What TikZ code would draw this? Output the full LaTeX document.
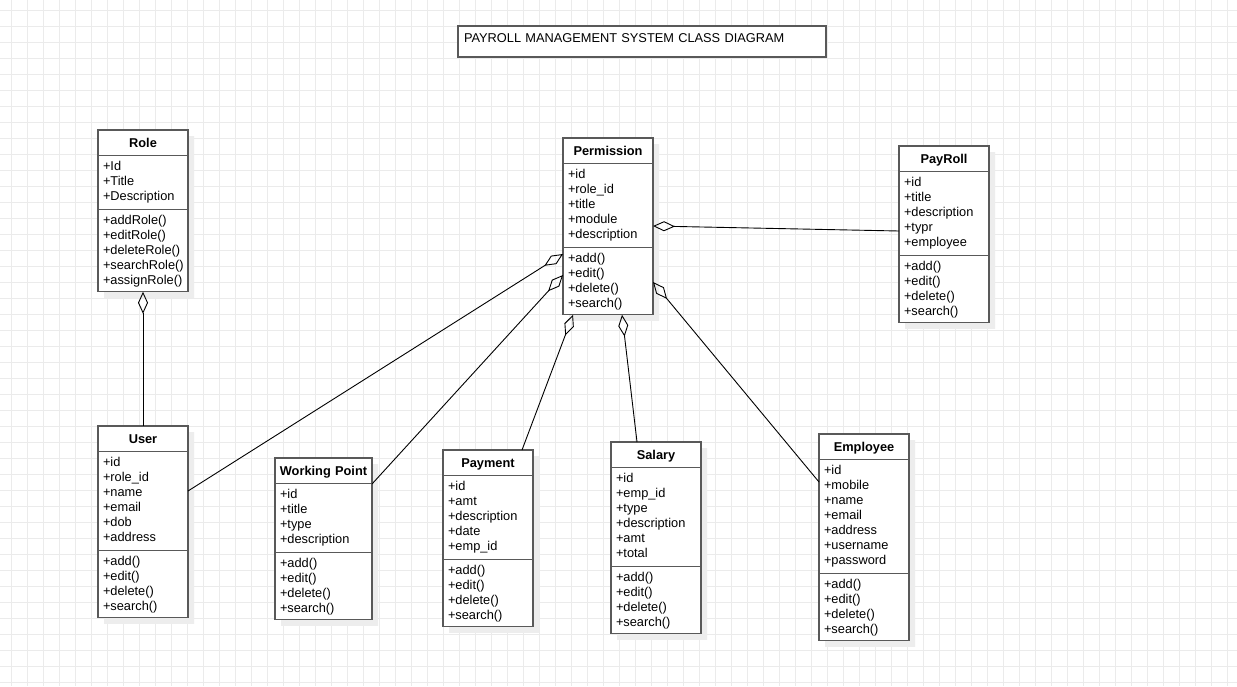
\documentclass[tikz,border=0pt]{standalone}
\usepackage{fontspec}
\setmainfont{Liberation Sans}
\usetikzlibrary{arrows.meta,calc,shapes.multipart,shadows}

\tikzset{
  gridline/.style={draw=black!8, line width=0.8pt},
  umlclass/.style={rectangle split, rectangle split parts=3, anchor=north west,
    draw=black!65, line width=1.2pt, fill=white, outer sep=0pt,
    inner xsep=5pt, inner ysep=4pt, text width=#1, align=left,
    font=\fontsize{12.8}{15}\selectfont,
    drop shadow={shadow xshift=6pt, shadow yshift=-6pt, fill=black!7, opacity=1}},
  umlclass/.default=80pt,
  titlebox/.style={anchor=north west, draw=black!65, line width=1.2pt, fill=white,
    outer sep=0pt, inner xsep=6pt, inner ysep=5pt, text width=356pt,
    text height=11pt, text depth=10pt, align=left, font=\fontsize{12.8}{15}\selectfont},
  agg/.style={line width=0.9pt, -{Diamond[open, length=22pt, width=10pt, line width=0.9pt]}}
}
\newcommand{\clshead}[1]{\rule[-3pt]{0pt}{16pt}\makebox[\hsize]{\textbf{#1}}}
\newcommand{\clsattr}[1]{\strut#1\strut}
\newcommand{\clsops}[1]{\strut#1}

\begin{document}
\begin{tikzpicture}[x=1pt,y=-1pt]
  \useasboundingbox[fill=white] (0,0) rectangle (1237,686);
  % background grid
  \foreach \gx in {11,27,...,1237} \draw[gridline] (\gx,0) -- (\gx,686);
  \foreach \gy in {10,26,...,686} \draw[gridline] (0,\gy) -- (1237,\gy);

  \node[titlebox] (title) at (458,26) {PAYROLL MANAGEMENT SYSTEM CLASS DIAGRAM};

  \node[umlclass] (role) at (98,130) {\clshead{Role}
    \nodepart{two}\clsattr{+Id\\+Title\\+Description}
    \nodepart{three}\clsops{+addRole()\\+editRole()\\+deleteRole()\\+searchRole()\\+assignRole()}};

  \node[umlclass] (perm) at (563,138) {\clshead{Permission}
    \nodepart{two}\clsattr{+id\\+role\_id\\+title\\+module\\+description}
    \nodepart{three}\clsops{+add()\\+edit()\\+delete()\\+search()}};

  \node[umlclass] (payroll) at (899,146) {\clshead{PayRoll}
    \nodepart{two}\clsattr{+id\\+title\\+description\\+typr\\+employee}
    \nodepart{three}\clsops{+add()\\+edit()\\+delete()\\+search()}};

  \node[umlclass] (user) at (98,426) {\clshead{User}
    \nodepart{two}\clsattr{+id\\+role\_id\\+name\\+email\\+dob\\+address}
    \nodepart{three}\clsops{+add()\\+edit()\\+delete()\\+search()}};

  \node[umlclass=87pt] (wpoint) at (275,458) {\clshead{Working Point}
    \nodepart{two}\clsattr{+id\\+title\\+type\\+description}
    \nodepart{three}\clsops{+add()\\+edit()\\+delete()\\+search()}};

  \node[umlclass] (payment) at (443,450) {\clshead{Payment}
    \nodepart{two}\clsattr{+id\\+amt\\+description\\+date\\+emp\_id}
    \nodepart{three}\clsops{+add()\\+edit()\\+delete()\\+search()}};

  \node[umlclass] (salary) at (611,442) {\clshead{Salary}
    \nodepart{two}\clsattr{+id\\+emp\_id\\+type\\+description\\+amt\\+total}
    \nodepart{three}\clsops{+add()\\+edit()\\+delete()\\+search()}};

  \node[umlclass] (employee) at (819,434) {\clshead{Employee}
    \nodepart{two}\clsattr{+id\\+mobile\\+name\\+email\\+address\\+username\\+password}
    \nodepart{three}\clsops{+add()\\+edit()\\+delete()\\+search()}};

  % aggregations
  \draw[agg] (user.north) -- (role.south);
  \draw[agg] ($(user.north east)+(0,65)$) -- ($(perm.north west)+(0,116)$);
  \draw[agg] ($(wpoint.north east)+(0,26)$) -- ($(perm.north west)+(0,137)$);
  \draw[agg] ($(payment.north east)+(-11,0)$) -- ($(perm.south west)+(10,0)$);
  \draw[agg] ($(salary.north west)+(26,0)$) -- ($(perm.south west)+(59,0)$);
  \draw[agg] ($(employee.north west)+(0,48)$) -- ($(perm.north east)+(0,144)$);
  \draw[agg] ($(payroll.north west)+(0,85)$) -- ($(perm.north east)+(0,88)$);
\end{tikzpicture}
\end{document}
